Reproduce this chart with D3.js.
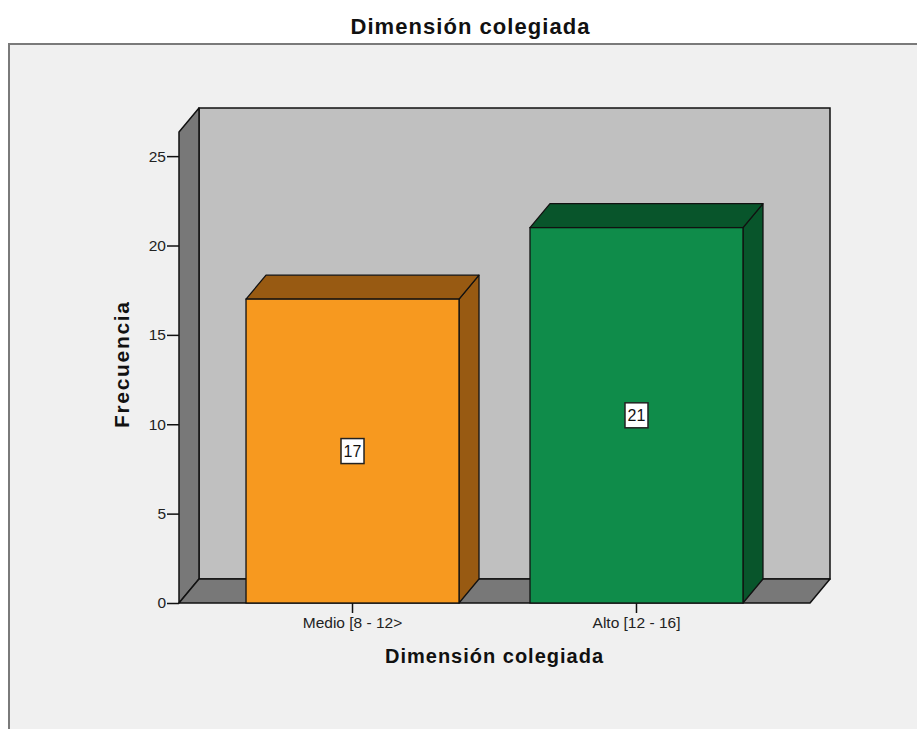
<!DOCTYPE html>
<html>
<head>
<meta charset="utf-8">
<script src="https://cdn.jsdelivr.net/npm/d3@7"></script>
<style>
  html, body { margin: 0; padding: 0; background: #ffffff; }
  svg { display: block; }
  text { font-family: "Liberation Sans", Arial, sans-serif; }
</style>
</head>
<body>
<svg id="chart" width="917" height="729"></svg>
<script>
// ---- data ----
const categories = ["Medio [8 - 12>", "Alto [12 - 16]"];
const frequencies = [17, 21];
const yTicks = [0, 5, 10, 15, 20, 25];
const chartTitle = "Dimensión colegiada";
const xTitle = "Dimensión colegiada";
const yTitle = "Frecuencia";

// ---- styles ----
const frontColors = ["#f7991f", "#0f8c4a"];
const darkColors = ["#985a12", "#08552b"];

const svg = d3.select("#chart");
const W = 917, H = 729;

// frame
svg.append("rect").attr("x", 9).attr("y", 44).attr("width", W + 20).attr("height", H)
  .attr("fill", "#f0f0f0").attr("stroke", "#7a7a7a").attr("stroke-width", 2);

// plot geometry
const x0 = 179, x1 = 810, yBase = 603, yTop = 132;
const dx = 20, dy = -24;

const y = d3.scaleLinear().domain([0, 26.35]).range([yBase, yTop]);
const x = d3.scaleBand().domain(categories).range([x0, x1])
  .paddingInner(0.25).paddingOuter(0.236);

const g = svg.append("g");

// back wall
g.append("rect").attr("x", x0 + dx).attr("y", yTop + dy)
  .attr("width", x1 - x0).attr("height", yBase - yTop)
  .attr("fill", "#c0c0c0").attr("stroke", "#111").attr("stroke-width", 1.5);

// left wall
g.append("polygon")
  .attr("points", [[x0, yBase], [x0, yTop], [x0 + dx, yTop + dy], [x0 + dx, yBase + dy]].map(p => p.join(",")).join(" "))
  .attr("fill", "#787878").attr("stroke", "#111").attr("stroke-width", 1.5).attr("stroke-linejoin", "round");

// floor
g.append("polygon")
  .attr("points", [[x0, yBase], [x1, yBase], [x1 + dx, yBase + dy], [x0 + dx, yBase + dy]].map(p => p.join(",")).join(" "))
  .attr("fill", "#787878").attr("stroke", "#111").attr("stroke-width", 1.5).attr("stroke-linejoin", "round");

// bars
const bars = g.selectAll("g.bar").data(categories.map((c, i) => ({ c, v: frequencies[i], i })))
  .enter().append("g").attr("class", "bar");

bars.each(function (d) {
  const sel = d3.select(this);
  const bx = x(d.c), bw = x.bandwidth(), by = y(d.v);
  // right side
  sel.append("polygon")
    .attr("points", [[bx + bw, yBase], [bx + bw, by], [bx + bw + dx, by + dy], [bx + bw + dx, yBase + dy]].map(p => p.join(",")).join(" "))
    .attr("fill", darkColors[d.i]).attr("stroke", "#111").attr("stroke-width", 1.3).attr("stroke-linejoin", "round");
  // top
  sel.append("polygon")
    .attr("points", [[bx, by], [bx + bw, by], [bx + bw + dx, by + dy], [bx + dx, by + dy]].map(p => p.join(",")).join(" "))
    .attr("fill", darkColors[d.i]).attr("stroke", "#111").attr("stroke-width", 1.3).attr("stroke-linejoin", "round");
  // front
  sel.append("rect").attr("x", bx).attr("y", by).attr("width", bw).attr("height", yBase - by)
    .attr("fill", frontColors[d.i]).attr("stroke", "#111").attr("stroke-width", 1.3);
  // value label box
  const cx = bx + bw / 2, cy = y(d.v / 2);
  sel.append("rect").attr("x", cx - 11.5).attr("y", cy - 12.5).attr("width", 23).attr("height", 25)
    .attr("fill", "#ffffff").attr("stroke", "#222").attr("stroke-width", 1.5);
  sel.append("text").attr("x", cx).attr("y", cy + 5.5).attr("text-anchor", "middle")
    .attr("font-size", 16).attr("fill", "#111").text(d.v);
});

// y axis
const yAxis = d3.axisLeft(y).tickValues(yTicks).tickSize(12).tickPadding(1).tickFormat(d3.format("d"));
const ya = svg.append("g").attr("transform", `translate(${x0},0)`).call(yAxis);
ya.select(".domain").remove();
ya.selectAll(".tick line").attr("stroke", "#111").attr("stroke-width", 1.5);
ya.selectAll(".tick text").attr("font-size", 15.5).attr("fill", "#222")
  .attr("font-family", "Liberation Sans, Arial, sans-serif");

// x axis
const xAxis = d3.axisBottom(x).tickSize(10).tickPadding(4);
const xa = svg.append("g").attr("transform", `translate(0,${yBase})`).call(xAxis);
xa.select(".domain").remove();
xa.selectAll(".tick line").attr("stroke", "#111").attr("stroke-width", 1.5);
xa.selectAll(".tick text").attr("font-size", 15.5).attr("fill", "#222")
  .attr("font-family", "Liberation Sans, Arial, sans-serif");

// titles
svg.append("text").attr("x", 470).attr("y", 34).attr("text-anchor", "middle")
  .attr("font-size", 22).attr("font-weight", "bold").attr("fill", "#111")
  .attr("textLength", 239).attr("lengthAdjust", "spacing").text(chartTitle);

svg.append("text").attr("x", 494).attr("y", 663).attr("text-anchor", "middle")
  .attr("font-size", 20).attr("font-weight", "bold").attr("fill", "#111")
  .attr("textLength", 218).attr("lengthAdjust", "spacing").text(xTitle);

svg.append("text").attr("transform", "translate(129,365) rotate(-90)").attr("text-anchor", "middle")
  .attr("font-size", 21).attr("font-weight", "bold").attr("fill", "#111")
  .attr("textLength", 126).attr("lengthAdjust", "spacing").text(yTitle);
</script>
</body>
</html>
